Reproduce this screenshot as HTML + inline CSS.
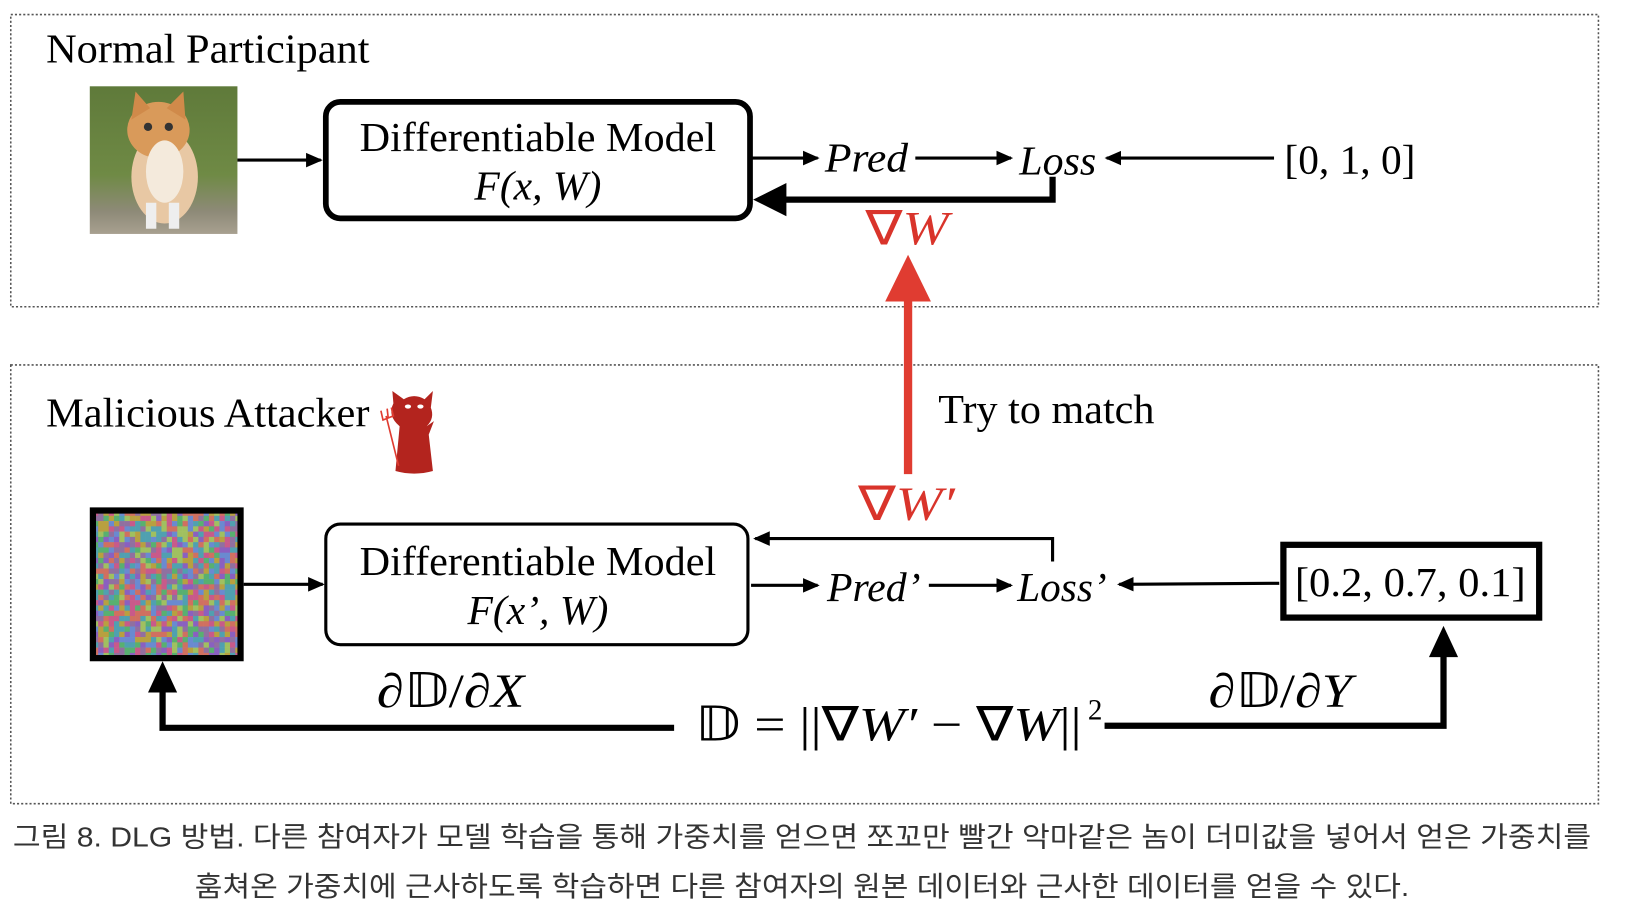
<!DOCTYPE html>
<html><head><meta charset="utf-8"><style>
html,body{margin:0;padding:0;background:#fff;width:1630px;height:916px;overflow:hidden}
svg{display:block}
.s{font-family:"Liberation Serif",serif;fill:#000}
.i{font-style:italic}
.r{fill:#d9342b}
.cap{font-family:"Liberation Sans","Noto Sans CJK KR",sans-serif;fill:#333;font-size:27px}
</style></head><body>
<svg id="g" width="1630" height="916" viewBox="0 0 1567 881" xmlns="http://www.w3.org/2000/svg">
<defs>
<marker id="a" markerWidth="16" markerHeight="16" refX="14" refY="8" orient="auto" markerUnits="userSpaceOnUse"><path d="M0,1 L16,8 L0,15z"/></marker>
<linearGradient id="grass" x1="0" y1="0" x2="0" y2="1"><stop offset="0" stop-color="#5f7a3a"/><stop offset="0.6" stop-color="#6f8a45"/><stop offset="0.85" stop-color="#8e8a78"/><stop offset="1" stop-color="#a8a090"/></linearGradient>
</defs>
<rect x="10" y="14" width="1527" height="281" fill="none" stroke="#555" stroke-width="1.5" stroke-dasharray="2,2"/>
<rect x="10" y="351" width="1527" height="422" fill="none" stroke="#555" stroke-width="1.5" stroke-dasharray="2,2"/>
<text class="s" x="44" y="60" font-size="40" textLength="311" lengthAdjust="spacingAndGlyphs">Normal Participant</text>
<!-- cat -->
<rect x="86" y="83" width="142" height="142" fill="url(#grass)"/>
<ellipse cx="158" cy="170" rx="32" ry="45" fill="#e8c8a4"/>
<ellipse cx="152" cy="125" rx="30" ry="27" fill="#d99a5a"/>
<path d="M126,115 L130,88 L144,104z M160,104 L176,88 L178,115z" fill="#d08a4a"/>
<ellipse cx="158" cy="165" rx="18" ry="30" fill="#f4eadc"/>
<rect x="140" y="195" width="10" height="25" fill="#eee"/><rect x="162" y="195" width="10" height="25" fill="#eee"/>
<circle cx="142" cy="122" r="4" fill="#333"/><circle cx="162" cy="122" r="4" fill="#333"/>
<line x1="228" y1="154" x2="308" y2="154" stroke="#000" stroke-width="3" marker-end="url(#a)"/>
<rect x="313" y="98" width="408" height="112" rx="14" fill="none" stroke="#000" stroke-width="5.5"/>
<text class="s" x="517" y="145" font-size="40" text-anchor="middle" textLength="343" lengthAdjust="spacingAndGlyphs">Differentiable Model</text>
<text class="s i" x="517" y="192" font-size="40" text-anchor="middle">F(x, W)</text>
<line x1="722" y1="152" x2="786" y2="152" stroke="#000" stroke-width="3" marker-end="url(#a)"/>
<text class="s i" x="793" y="165" font-size="40" textLength="80" lengthAdjust="spacingAndGlyphs">Pred</text>
<line x1="880" y1="152" x2="972" y2="152" stroke="#000" stroke-width="3" marker-end="url(#a)"/>
<text class="s i" x="980" y="168" font-size="40" textLength="74" lengthAdjust="spacingAndGlyphs">Loss</text>
<line x1="1225" y1="152" x2="1064" y2="152" stroke="#000" stroke-width="3" marker-end="url(#a)"/>
<text class="s" x="1235" y="167" font-size="40" textLength="126" lengthAdjust="spacingAndGlyphs">[0, 1, 0]</text>
<polyline points="1012,170 1012,192 752,192" fill="none" stroke="#000" stroke-width="6"/>
<path d="M724,192 L756,176 L756,208z"/>
<text class="s r" x="832" y="235" font-size="46" textLength="80" lengthAdjust="spacingAndGlyphs">∇<tspan font-style="italic">W</tspan></text>
<line x1="873" y1="456" x2="873" y2="285" stroke="#e03c31" stroke-width="8"/>
<path d="M851,290 L873,245 L895,290z" fill="#e03c31"/>
<text class="s" x="44" y="410" font-size="40" textLength="311" lengthAdjust="spacingAndGlyphs">Malicious Attacker</text>
<!-- devil -->
<path fill="#b3241e" d="M380,453 L384,410 Q372,400 378,388 L377,376 L388,384 Q398,378 408,384 L416,376 L414,392 Q418,402 410,410 L417,405 L412,418 L416,453 Q398,458 380,453z"/>
<ellipse cx="392" cy="391" rx="3" ry="2" fill="#fff"/><ellipse cx="404" cy="391" rx="3" ry="2" fill="#fff"/>
<path d="M371,400 L383,448 M366,395 L368,404 L378,400 L376,392 M372,393 L373,402" stroke="#e03c31" stroke-width="1.6" fill="none"/>
<text class="s" x="902" y="407" font-size="40" textLength="208" lengthAdjust="spacingAndGlyphs">Try to match</text>
<text class="s r" x="825" y="500" font-size="46" textLength="93" lengthAdjust="spacingAndGlyphs">∇<tspan font-style="italic">W′</tspan></text>
<!-- noise -->
<g id="noise"></g>
<rect x="89" y="491" width="142" height="142" fill="none" stroke="#000" stroke-width="6"/>
<line x1="234" y1="562" x2="310" y2="562" stroke="#000" stroke-width="3" marker-end="url(#a)"/>
<rect x="313" y="504" width="406" height="116" rx="14" fill="none" stroke="#000" stroke-width="3"/>
<text class="s" x="517" y="553" font-size="40" text-anchor="middle" textLength="343" lengthAdjust="spacingAndGlyphs">Differentiable Model</text>
<text class="s i" x="517" y="600" font-size="40" text-anchor="middle">F(x’, W)</text>
<polyline points="1012,540 1012,518 726,518" fill="none" stroke="#000" stroke-width="3" marker-end="url(#a)"/>
<line x1="722" y1="563" x2="786" y2="563" stroke="#000" stroke-width="3" marker-end="url(#a)"/>
<text class="s i" x="795" y="578" font-size="40" textLength="90" lengthAdjust="spacingAndGlyphs">Pred’</text>
<line x1="893" y1="563" x2="972" y2="563" stroke="#000" stroke-width="3" marker-end="url(#a)"/>
<text class="s i" x="978" y="578" font-size="40" textLength="86" lengthAdjust="spacingAndGlyphs">Loss’</text>
<line x1="1230" y1="561" x2="1076" y2="562" stroke="#000" stroke-width="3" marker-end="url(#a)"/>
<rect x="1234" y="524" width="246" height="70" fill="none" stroke="#000" stroke-width="6"/>
<text class="s" x="1245" y="573" font-size="40" textLength="222" lengthAdjust="spacingAndGlyphs">[0.2, 0.7, 0.1]</text>
<polyline points="648,700 156,700 156,662" fill="none" stroke="#000" stroke-width="6"/>
<path d="M156,636 L142,666 L170,666z"/>
<polyline points="1062,698 1388,698 1388,628" fill="none" stroke="#000" stroke-width="6"/>
<path d="M1388,602 L1374,632 L1402,632z"/>
<text class="s" x="362" y="680" font-size="46" textLength="142" lengthAdjust="spacingAndGlyphs"><tspan font-style="italic">∂</tspan>𝔻/<tspan font-style="italic">∂X</tspan></text>
<text class="s" x="1162" y="680" font-size="46" textLength="138" lengthAdjust="spacingAndGlyphs"><tspan font-style="italic">∂</tspan>𝔻/<tspan font-style="italic">∂Y</tspan></text>
<text class="s" x="668" y="712" font-size="46" textLength="372" lengthAdjust="spacingAndGlyphs">𝔻 = ||∇<tspan font-style="italic">W′</tspan> − ∇<tspan font-style="italic">W</tspan>||</text>
<text class="s" x="1046" y="692" font-size="28">2</text>
<text class="cap" x="12" y="814" textLength="1518" lengthAdjust="spacingAndGlyphs">그림 8. DLG 방법. 다른 참여자가 모델 학습을 통해 가중치를 얻으면 쪼꼬만 빨간 악마같은 놈이 더미값을 넣어서 얻은 가중치를</text>
<text class="cap" x="187" y="862" textLength="1168" lengthAdjust="spacingAndGlyphs">훔쳐온 가중치에 근사하도록 학습하면 다른 참여자의 원본 데이터와 근사한 데이터를 얻을 수 있다.</text>
</svg>
<script>
(function(){var g=document.getElementById('noise'),s='',n=28,c=142/n,seed=7;
function r(){seed=(seed*16807)%2147483647;return seed/2147483647;}
var pal=['#c85a8a','#6a8ad0','#58b070','#b8a040','#8a60c0','#d07060','#50a0b0','#a0c060','#9070a0'];
for(var i=0;i<n;i++)for(var j=0;j<n;j++){s+='<rect x="'+(89+i*c)+'" y="'+(491+j*c)+'" width="'+(c+0.3)+'" height="'+(c+0.3)+'" fill="'+pal[Math.floor(r()*pal.length)]+'"/>';}
g.innerHTML=s;})();
</script>
</body></html>
